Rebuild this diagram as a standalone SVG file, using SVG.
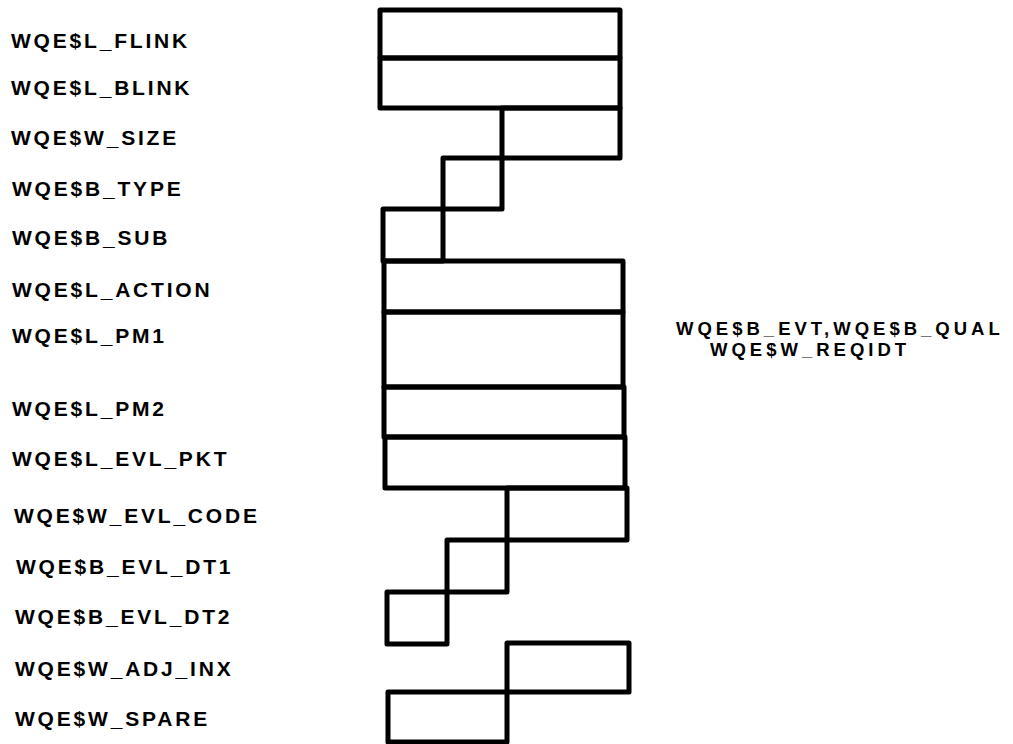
<svg xmlns="http://www.w3.org/2000/svg" width="1013" height="744" viewBox="0 0 1013 744">
<style>
.b{fill:none;stroke:#000;stroke-width:5;stroke-linejoin:round}
.t{font-family:"Liberation Sans",Arial,sans-serif;font-weight:bold;font-size:21px;letter-spacing:2.8px;fill:#000}
.r{font-family:"Liberation Sans",Arial,sans-serif;font-weight:bold;font-size:18.5px;letter-spacing:4px;fill:#000}
</style>
<rect width="1013" height="744" fill="#fff"/>
<g id="connectors"></g>
<g id="f_flink"><rect class="b" x="380" y="10" width="240" height="48"/><text class="t" x="11" y="48">WQE$L_FLINK</text></g>
<g id="f_blink"><rect class="b" x="380" y="58" width="240" height="50"/><text class="t" x="11" y="95">WQE$L_BLINK</text></g>
<g id="f_w_size"><rect class="b" x="502" y="108" width="118" height="50"/><text class="t" x="11" y="145">WQE$W_SIZE</text></g>
<g id="f_b_type"><rect class="b" x="443" y="158" width="59" height="51"/><text class="t" x="12" y="196">WQE$B_TYPE</text></g>
<g id="f_b_sub"><rect class="b" x="383" y="209" width="60" height="52"/><text class="t" x="12" y="245">WQE$B_SUB</text></g>
<g id="f_action"><rect class="b" x="384" y="261" width="239" height="51"/><text class="t" x="12" y="297">WQE$L_ACTION</text></g>
<g id="f_pm1"><rect class="b" x="384" y="312" width="239" height="75"/><text class="t" x="12" y="343">WQE$L_PM1</text></g>
<g id="f_pm2"><rect class="b" x="384" y="387" width="240" height="50"/><text class="t" x="12" y="416">WQE$L_PM2</text></g>
<g id="f_evl_pkt"><rect class="b" x="385" y="437" width="240" height="51"/><text class="t" x="12" y="466">WQE$L_EVL_PKT</text></g>
<g id="f_evl_code"><rect class="b" x="507" y="488" width="120" height="52"/><text class="t" x="14" y="523">WQE$W_EVL_CODE</text></g>
<g id="f_evl_dt1"><rect class="b" x="447" y="540" width="60" height="52"/><text class="t" x="16" y="574">WQE$B_EVL_DT1</text></g>
<g id="f_evl_dt2"><rect class="b" x="387" y="592" width="60" height="52"/><text class="t" x="15" y="624">WQE$B_EVL_DT2</text></g>
<g id="f_adj_inx"><rect class="b" x="507" y="643" width="122" height="49"/><text class="t" x="15" y="676">WQE$W_ADJ_INX</text></g>
<g id="f_spare"><rect class="b" x="388" y="692" width="119" height="50"/><text class="t" x="15" y="726">WQE$W_SPARE</text></g>
<g id="note_pm1">
<text class="r" x="676" y="335">WQE$B_EVT,WQE$B_QUAL</text>
<text class="r" x="710" y="356">WQE$W_REQIDT</text>
</g>
</svg>
